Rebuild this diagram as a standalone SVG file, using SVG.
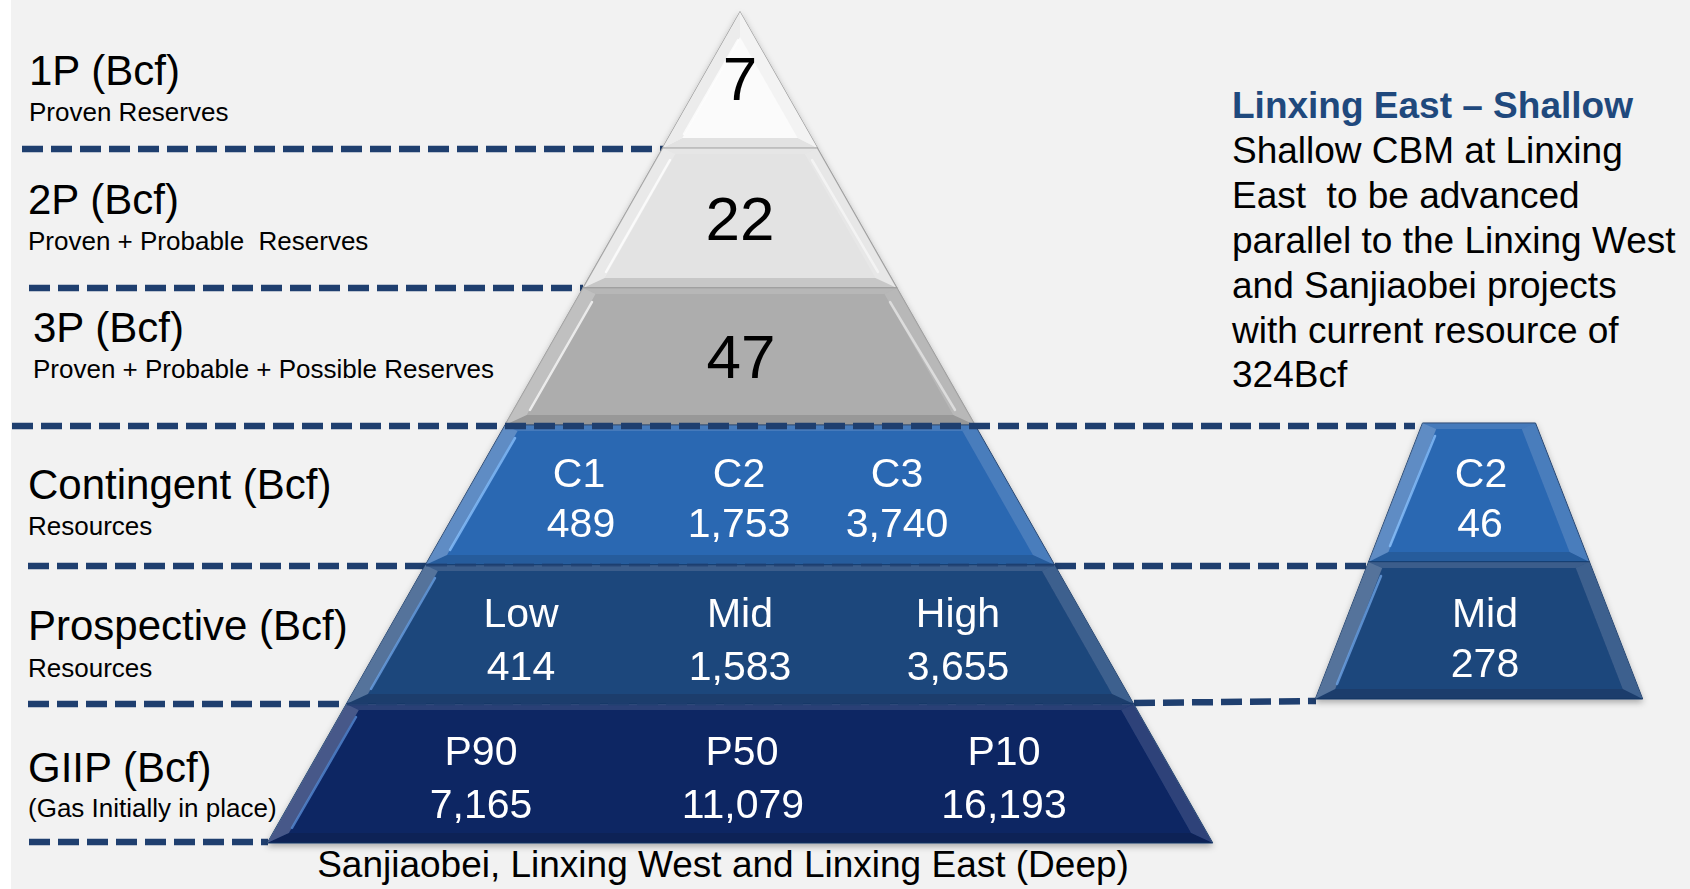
<svg xmlns="http://www.w3.org/2000/svg" width="1690" height="889" viewBox="0 0 1690 889">
  <style>
    text { font-family: "Liberation Sans", Arial, sans-serif; fill: #000; }
    .big { font-size: 42px; }
    .sub { font-size: 26px; }
    .num { font-size: 62px; text-anchor: middle; }
    .w { font-size: 41px; fill: #fff; text-anchor: middle; }
    .rt { font-size: 37px; }
    .ttl { font-size: 37px; font-weight: bold; fill: #1f497d; }
    .cap { font-size: 37px; text-anchor: middle; }
    .dash { stroke: #1f3f6f; stroke-width: 6.5; stroke-dasharray: 21 8; fill: none; }
    .seam { stroke: #1f3f6f; stroke-width: 3; stroke-dasharray: 21 8; fill: none; opacity: 0.7; }
    .sl { fill: #fff; fill-opacity: 0.24; }
    .st { fill: #fff; fill-opacity: 0.12; }
    .sr { fill: #fff; fill-opacity: 0.14; }
    .sb { fill: #000; fill-opacity: 0.12; }
    .hl { stroke: #fff; stroke-opacity: 0.75; stroke-width: 2.5; fill: none; stroke-linecap: round; }
    .gray { stroke: #9a9a9a; stroke-width: 1.2; }
    .blue { stroke: #173a6a; stroke-width: 1; }
  </style>
  <defs>
    <filter id="shadow" x="-10%" y="-10%" width="120%" height="130%">
      <feDropShadow dx="0" dy="3" stdDeviation="3" flood-color="#000" flood-opacity="0.3"/>
    </filter>
  </defs>

  <!-- page -->
  <rect x="0" y="0" width="1690" height="889" fill="#f2f2f2"/>
  <rect x="0" y="0" width="11" height="889" fill="#ffffff"/>

  <!-- dashed level lines drawn behind the pyramids -->
  <g id="connectors-back">
    <line class="dash" x1="22" y1="149" x2="663" y2="149"/>
    <line class="dash" x1="29" y1="288" x2="583" y2="288"/>
    <line class="dash" x1="28" y1="566" x2="426" y2="566"/>
    <line class="dash" x1="1055" y1="566" x2="1369" y2="566"/>
    <line class="dash" x1="28" y1="704" x2="347" y2="704"/>
    <line class="dash" x1="1134" y1="703" x2="1316" y2="701"/>
    <line class="dash" x1="29" y1="842" x2="268" y2="842"/>
  </g>

  <!-- main pyramid -->
  <g id="pyramid-main" filter="url(#shadow)">
    <g id="layer-1p">
      <polygon class="gray" points="740,12 817.4,148 662.6,148" fill="#fbfbfb"/>
      <polygon points="740,12 662.6,148 682.3,138 740,37" fill="#ececec"/>
      <polygon points="740,12 817.4,148 797.7,138 740,37" fill="#f3f3f3"/>
      <polygon points="662.6,148 817.4,148 797.7,138 682.3,138" fill="#e2e2e2"/>
      <polyline class="hl" points="684,134 738,40"/>
    </g>
    <g id="layer-2p">
      <polygon class="gray" points="662.6,148 817.4,148 897,288 583,288" fill="#e3e3e3"/>
      <polygon class="st" points="662.6,148 817.4,148 804.8,154 675.2,154"/>
      <polygon class="sr" points="817.4,148 897,288 875.4,278 804.8,154"/>
      <polygon class="sb" points="897,288 583,288 604.6,278 875.4,278"/>
      <polygon class="sl" points="583,288 662.6,148 675.2,154 604.6,278"/>
      <polyline class="hl" points="606,272 670,160"/>
      <polyline class="hl" points="812,160 878,272" style="stroke-opacity:0.5"/>
    </g>
    <g id="layer-3p">
      <polygon class="gray" points="583,288 897,288 975,425 505,425" fill="#adadad"/>
      <polygon class="st" points="583,288 897,288 884.5,294 595.5,294"/>
      <polygon class="sr" points="897,288 975,425 953.3,415 884.5,294"/>
      <polygon class="sb" points="975,425 505,425 526.7,415 953.3,415"/>
      <polygon class="sl" points="505,425 583,288 595.5,294 526.7,415"/>
      <polyline class="hl" points="530,410 592,302"/>
      <polyline class="hl" points="890,302 955,410" style="stroke-opacity:0.5"/>
    </g>
    <g id="layer-contingent">
      <polygon class="blue" points="505,425 975,425 1054.7,565 425.3,565" fill="#2c68b2"/>
      <polygon class="st" points="505,425 975,425 962.4,431 517.6,431"/>
      <polygon class="sr" points="975,425 1054.7,565 1033,555 962.4,431"/>
      <polygon class="sb" points="1054.7,565 425.3,565 447,555 1033,555"/>
      <polygon class="sl" points="425.3,565 505,425 517.6,431 447,555"/>
      <polyline class="hl" points="450,550 515,438" style="stroke:#8cc4ff"/>
      <text class="w" x="579" y="487">C1</text>
      <text class="w" x="739" y="487">C2</text>
      <text class="w" x="897" y="487">C3</text>
      <text class="w" x="581" y="537">489</text>
      <text class="w" x="739" y="537">1,753</text>
      <text class="w" x="897" y="537">3,740</text>
    </g>
    <g id="layer-prospective">
      <polygon class="blue" points="425.3,565 1054.7,565 1133.7,704 346.3,704" fill="#1f477c"/>
      <polygon class="st" points="425.3,565 1054.7,565 1042.1,571 437.9,571"/>
      <polygon class="sr" points="1054.7,565 1133.7,704 1112.1,694 1042.1,571"/>
      <polygon class="sb" points="1133.7,704 346.3,704 367.9,694 1112.1,694"/>
      <polygon class="sl" points="346.3,704 425.3,565 437.9,571 367.9,694"/>
      <polyline class="hl" points="371,689 435,578" style="stroke:#6fa6e8"/>
      <text class="w" x="521" y="627">Low</text>
      <text class="w" x="740" y="627">Mid</text>
      <text class="w" x="958" y="627">High</text>
      <text class="w" x="521" y="680">414</text>
      <text class="w" x="740" y="680">1,583</text>
      <text class="w" x="958" y="680">3,655</text>
    </g>
    <g id="layer-giip">
      <polygon class="blue" points="346.3,704 1133.7,704 1212.8,843 267.2,843" fill="#0c2564"/>
      <polygon class="st" points="346.3,704 1133.7,704 1121.2,710 358.8,710"/>
      <polygon class="sr" points="1133.7,704 1212.8,843 1191.1,833 1121.2,710"/>
      <polygon class="sb" points="1212.8,843 267.2,843 288.9,833 1191.1,833"/>
      <polygon class="sl" points="267.2,843 346.3,704 358.8,710 288.9,833"/>
      <polyline class="hl" points="292,828 356,717" style="stroke:#5b8fd8"/>
      <text class="w" x="481" y="765">P90</text>
      <text class="w" x="742" y="765">P50</text>
      <text class="w" x="1004" y="765">P10</text>
      <text class="w" x="481" y="818">7,165</text>
      <text class="w" x="743" y="818">11,079</text>
      <text class="w" x="1004" y="818">16,193</text>
    </g>
  </g>

  <!-- shallow pyramid -->
  <g id="pyramid-shallow" filter="url(#shadow)">
    <g id="shallow-contingent">
      <polygon class="blue" points="1422.5,423 1535.5,423 1589.5,562 1368.5,562" fill="#2c68b2"/>
      <polygon class="st" points="1422.5,423 1535.5,423 1521.8,429 1436.2,429"/>
      <polygon class="sr" points="1535.5,423 1589.5,562 1569.6,552 1521.8,429"/>
      <polygon class="sb" points="1589.5,562 1368.5,562 1388.4,552 1569.6,552"/>
      <polygon class="sl" points="1368.5,562 1422.5,423 1436.2,429 1388.4,552"/>
      <polyline class="hl" points="1390,546 1435,436" style="stroke:#8cc4ff"/>
      <text class="w" x="1481" y="487">C2</text>
      <text class="w" x="1480" y="537">46</text>
    </g>
    <g id="shallow-prospective">
      <polygon class="blue" points="1368.5,562 1589.5,562 1642.7,699 1315.3,699" fill="#1f477c"/>
      <polygon class="st" points="1368.5,562 1589.5,562 1575.8,568 1382.2,568"/>
      <polygon class="sr" points="1589.5,562 1642.7,699 1622.8,689 1575.8,568"/>
      <polygon class="sb" points="1642.7,699 1315.3,699 1335.2,689 1622.8,689"/>
      <polygon class="sl" points="1315.3,699 1368.5,562 1382.2,568 1335.2,689"/>
      <polyline class="hl" points="1337,684 1381,576" style="stroke:#6fa6e8"/>
      <text class="w" x="1485" y="627">Mid</text>
      <text class="w" x="1485" y="677">278</text>
    </g>
  </g>

  <!-- level lines that run over the pyramid -->
  <g id="connectors">
    <line class="dash" x1="12" y1="426" x2="1415" y2="426"/>
    <line class="seam" x1="426" y1="565" x2="1054" y2="565"/>
    <line class="seam" x1="347" y1="704" x2="1133" y2="704"/>
  </g>

  <!-- reserve values -->
  <g id="values-reserves">
    <text class="num" x="740" y="100">7</text>
    <text class="num" x="740" y="240">22</text>
    <text class="num" x="741" y="378">47</text>
  </g>

  <!-- category labels -->
  <g id="label-1p">
    <text class="big" x="29" y="85">1P (Bcf)</text>
    <text class="sub" x="29" y="121">Proven Reserves</text>
  </g>
  <g id="label-2p">
    <text class="big" x="28" y="214">2P (Bcf)</text>
    <text class="sub" x="28" y="250" xml:space="preserve">Proven + Probable  Reserves</text>
  </g>
  <g id="label-3p">
    <text class="big" x="33" y="342">3P (Bcf)</text>
    <text class="sub" x="33" y="378">Proven + Probable + Possible Reserves</text>
  </g>
  <g id="label-contingent">
    <text class="big" x="28" y="499">Contingent (Bcf)</text>
    <text class="sub" x="28" y="535">Resources</text>
  </g>
  <g id="label-prospective">
    <text class="big" x="28" y="640">Prospective (Bcf)</text>
    <text class="sub" x="28" y="677">Resources</text>
  </g>
  <g id="label-giip">
    <text class="big" x="28" y="782">GIIP (Bcf)</text>
    <text class="sub" x="28" y="817">(Gas Initially in place)</text>
  </g>

  <g id="caption-deep">
    <text class="cap" x="723" y="877">Sanjiaobei, Linxing West and Linxing East (Deep)</text>
  </g>

  <g id="note-shallow">
    <text class="ttl" x="1232" y="118">Linxing East – Shallow</text>
    <text class="rt" x="1232" y="163">Shallow CBM at Linxing</text>
    <text class="rt" x="1232" y="208" xml:space="preserve">East  to be advanced</text>
    <text class="rt" x="1232" y="253">parallel to the Linxing West</text>
    <text class="rt" x="1232" y="298">and Sanjiaobei projects</text>
    <text class="rt" x="1232" y="343">with current resource of</text>
    <text class="rt" x="1232" y="387">324Bcf</text>
  </g>
</svg>
